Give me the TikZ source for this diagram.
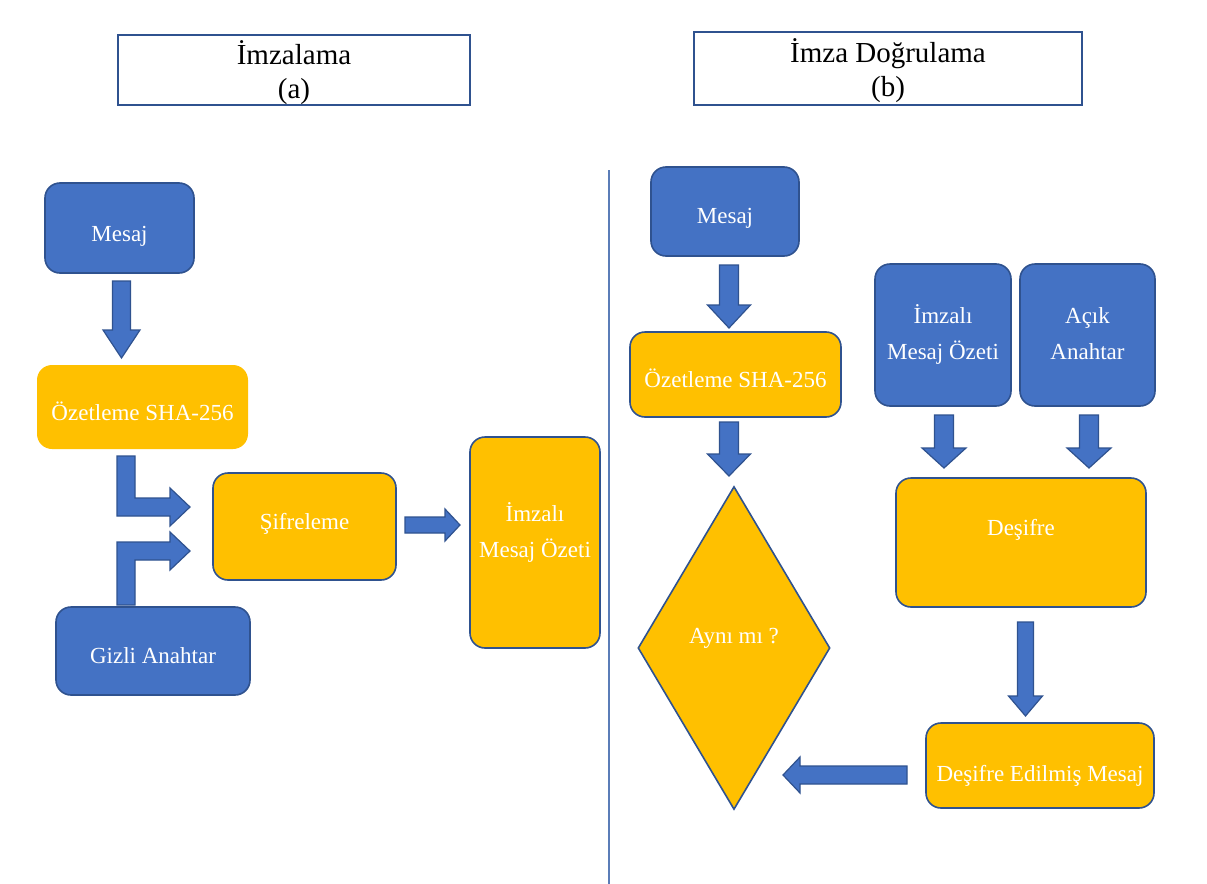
\documentclass[tikz,border=0pt]{standalone}
\usepackage{fontspec}
\setmainfont{Liberation Serif}
\usetikzlibrary{shapes.geometric}
\definecolor{boxblue}{HTML}{4472C4}
\definecolor{edgeblue}{HTML}{2F528F}
\definecolor{boxorange}{HTML}{FFC000}
\definecolor{divider}{HTML}{5B7DB8}

% rectangle node given by its corner pixels:
% name, style, x1, y1, x2, y2, downward text offset, text
\newcommand\boxnode[8]{%
  \pgfmathsetmacro\bw{(#5-#3)*0.5}%
  \pgfmathsetmacro\bh{(#6-#4)*0.5}%
  \pgfmathsetmacro\ty{-(#7)*0.5}%
  \node[#2, minimum width=\bw pt, minimum height=\bh pt,
    label={[textof #2, yshift=\ty pt]center:#8}] (#1) at ({(#3+#5)/2},{(#4+#6)/2}) {};}

% downward block arrow: x, top, tip, shaft half width, head half width, head length
\newcommand\blkdown[6]{%
  \filldraw[blockarrow] (#1-#4,#2) -- (#1+#4,#2) -- (#1+#4,#3-#6) -- (#1+#5,#3-#6)
    -- (#1,#3) -- (#1-#5,#3-#6) -- (#1-#4,#3-#6) -- cycle;}

\begin{document}
\begin{tikzpicture}[x={(0.5pt,0)}, y={(0,-0.5pt)},
  basebox/.style={rectangle, rounded corners=7.5pt, inner sep=0pt},
  boxtext/.style={text=white, inner sep=0pt, align=center,
    font=\fontsize{11.5}{18}\selectfont},
  bluebox/.style={basebox, fill=boxblue, draw=edgeblue, line width=0.8pt},
  orangebox/.style={basebox, fill=boxorange, draw=edgeblue, line width=0.8pt},
  orangeplain/.style={basebox, fill=boxorange},
  textof bluebox/.style={boxtext},
  textof orangebox/.style={boxtext},
  textof orangeplain/.style={boxtext},
  titlebox/.style={rectangle, draw=edgeblue, line width=1pt, fill=white, inner sep=0pt},
  textof titlebox/.style={text=black, inner sep=0pt, align=center,
    font=\fontsize{14.5}{17}\selectfont},
  blockarrow/.style={fill=boxblue, draw=edgeblue, line width=0.6pt, line join=miter},
  decision/.style={diamond, fill=boxorange, draw=edgeblue, line width=0.8pt, inner sep=0pt}]

\useasboundingbox (0,0) rectangle (1207,884);
\fill[white] (0,0) rectangle (1207,884);

% headings
\boxnode{ta}{titlebox}{118}{35}{470}{105}{5}{\begin{tabular}{@{}c@{}}İmzalama\\(a)\end{tabular}}
\boxnode{tb}{titlebox}{694}{32}{1082}{105}{4}{\begin{tabular}{@{}c@{}}İmza Doğrulama\\(b)\end{tabular}}

% separator between the two halves
\coordinate (sepTop) at (609,170);
\coordinate (sepBot) at (609,884);
\draw[divider, line width=0.8pt] (sepTop) -- (sepBot);

% ---------- (a) signing ----------
\boxnode{m1}{bluebox}{45}{183}{194}{273}{8}{Mesaj}
\boxnode{oz1}{orangeplain}{37}{365}{248}{449}{4}{Özetleme SHA-256}
\boxnode{sif}{orangebox}{213}{473}{396}{580}{-3}{Şifreleme}
\boxnode{imz1}{orangebox}{470}{437}{600}{648}{-10}{\begin{tabular}{@{}c@{}}İmzalı\\Mesaj Özeti\end{tabular}}
\boxnode{gizli}{bluebox}{56}{607}{250}{695}{5}{Gizli Anahtar}

\blkdown{121.5}{281}{358}{9}{18.5}{28}
\filldraw[blockarrow] (117,456) -- (135,456) -- (135,498) -- (170,498) -- (170,488)
  -- (190,507) -- (170,526) -- (170,516) -- (117,516) -- cycle;
\filldraw[blockarrow] (117,605) -- (117,542) -- (170,542) -- (170,532) -- (190,551)
  -- (170,570) -- (170,560) -- (135,560) -- (135,605) -- cycle;
\filldraw[blockarrow] (405,517) -- (445,517) -- (445,509) -- (460,525) -- (445,541)
  -- (445,533) -- (405,533) -- cycle;

% ---------- (b) verification ----------
\boxnode{m2}{bluebox}{651}{167}{799}{256}{7}{Mesaj}
\boxnode{oz2}{orangebox}{630}{332}{841}{417}{4}{Özetleme SHA-256}
\boxnode{imz2}{bluebox}{875}{264}{1011}{406}{-1}{\begin{tabular}{@{}c@{}}İmzalı\\Mesaj Özeti\end{tabular}}
\boxnode{acik}{bluebox}{1020}{264}{1155}{406}{-1}{\begin{tabular}{@{}c@{}}Açık\\Anahtar\end{tabular}}
\boxnode{desifre}{orangebox}{896}{478}{1146}{607}{-13}{Deşifre}
\boxnode{dem}{orangebox}{926}{723}{1154}{808}{10}{Deşifre Edilmiş Mesaj}
\node[decision, minimum width=96pt, minimum height=161.5pt,
  label={[boxtext, yshift=5pt]center:Aynı mı ?}] (ayni) at (734,648) {};

\blkdown{729}{265}{328}{9.5}{21.5}{23}
\blkdown{729}{422}{476}{9.5}{21.5}{22}
\blkdown{944}{415}{468}{9.5}{22}{20}
\blkdown{1089}{415}{468}{9.5}{22}{20}
\blkdown{1025.5}{622}{716}{8}{17}{20}
\filldraw[blockarrow] (907,766) -- (800,766) -- (800,757) -- (783,775) -- (800,793)
  -- (800,784) -- (907,784) -- cycle;

\end{tikzpicture}
\end{document}
